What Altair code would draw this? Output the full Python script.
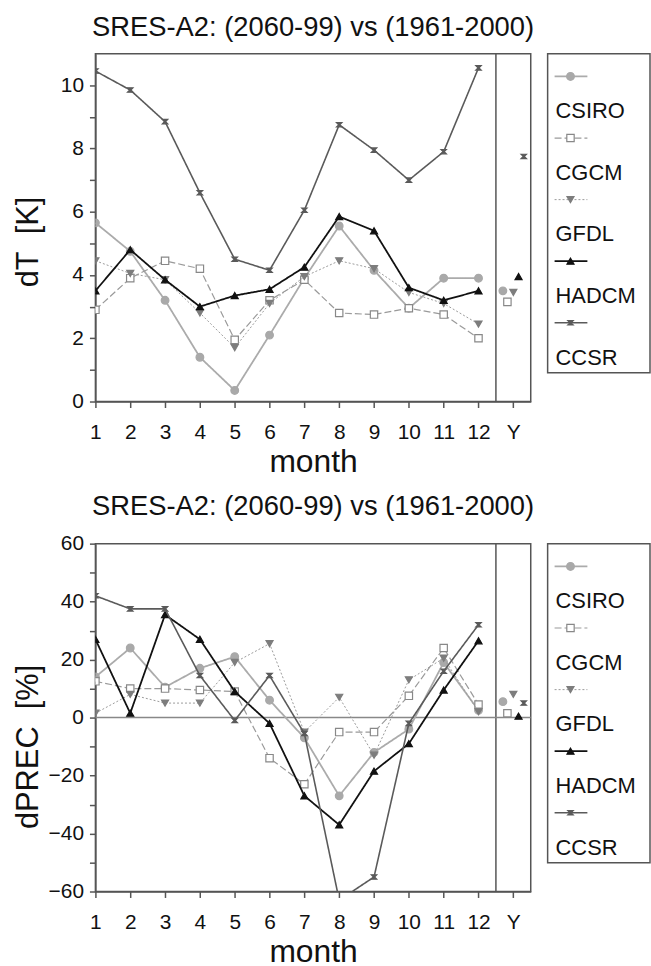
import altair as alt
import pandas as pd

# ---------------- data ----------------
months = list(range(1, 13))
models = ["CSIRO", "CGCM", "GFDL", "HADCM", "CCSR"]
title_text = "SRES-A2: (2060-99) vs (1961-2000)"
annual_label = "Y"
annual_pos = 13
separator_pos = 12.5

dT_monthly = {
    "CSIRO": [5.65, 4.75, 3.2, 1.4, 0.35, 2.1, 3.9, 5.55, 4.15, 2.95, 3.9, 3.9],
    "CGCM": [2.9, 3.9, 4.45, 4.2, 1.95, 3.2, 3.85, 2.8, 2.75, 2.95, 2.75, 2.0],
    "GFDL": [4.45, 4.05, 3.85, 2.8, 1.7, 3.1, 3.95, 4.45, 4.2, 3.45, 3.1, 2.45],
    "HADCM": [3.5, 4.8, 3.85, 3.0, 3.35, 3.55, 4.25, 5.85, 5.4, 3.6, 3.2, 3.5],
    "CCSR": [10.45, 9.85, 8.85, 6.6, 4.5, 4.15, 6.05, 8.75, 7.95, 7.0, 7.9, 10.55],
}
dT_annual = {"CSIRO": 3.5, "CGCM": 3.15, "GFDL": 3.45, "HADCM": 3.95, "CCSR": 7.75}

dP_monthly = {
    "CSIRO": [14, 24, 10.5, 17, 21, 6, -7, -27, -12, -4, 19, 2.5],
    "CGCM": [12.5, 10, 10, 9.5, 9, -14, -23, -5, -5, 7.5, 24, 4.5],
    "GFDL": [1.5, 8, 5, 5, 19, 25.5, -5, 7, -13, 13, 20.5, 2],
    "HADCM": [27, 1.5, 35.5, 27, 9, -2, -27, -37, -18.5, -9, 9.5, 26.5],
    "CCSR": [42, 37.5, 37.5, 14.5, -1, 14.5, -5.5, -63, -55, -2, 16, 32],
}
dP_annual = {"CSIRO": 5.5, "CGCM": 1.5, "GFDL": 8, "HADCM": 0.5, "CCSR": 5}

# ---------------- styles ----------------
FONT = "Liberation Sans"
AXIS_COLOR = "#555555"
HOURGLASS = "M-1,-0.8L1,-0.8L0.2,0L1,0.8L-1,0.8L-0.2,0Z"
NBSP = "\u00a0"

style = {
    "CSIRO": dict(color="#ababab", dash=[1, 0], width=1.8, shape="circle",
                  fill="#a9a9a9", stroke="#a9a9a9", size=60, dx=-0.3),
    "CGCM": dict(color="#9a9a9a", dash=[7, 3], width=1.2, shape="square",
                 fill="white", stroke="#888888", size=55, dx=-0.17),
    "GFDL": dict(color="#9a9a9a", dash=[2, 2], width=1.0, shape="triangle-down",
                 fill="#7d7d7d", stroke="#7d7d7d", size=50, dx=0.0),
    "HADCM": dict(color="#111111", dash=[1, 0], width=1.8, shape="triangle-up",
                  fill="#111111", stroke="#111111", size=50, dx=0.15),
    "CCSR": dict(color="#5a5a5a", dash=[1, 0], width=1.6, shape=HOURGLASS,
                 fill="#5a5a5a", stroke="#5a5a5a", size=30, dx=0.3),
}


def panel(monthly, annual, domain, tick_vals, label_every, ytitle, title_y):
    x_scale = alt.Scale(domain=[1, 13.5], nice=False, zero=False)
    y_scale = alt.Scale(domain=domain, nice=False, zero=False)
    x_axis = alt.Axis(
        values=months + [annual_pos],
        labelExpr=f"datum.value == {annual_pos} ? '{annual_label}' : datum.label",
        title="month", titleFontSize=32, titleFont=FONT, titleFontWeight="normal",
        titlePadding=4, labelFontSize=21, labelPadding=14, grid=False,
        labelFlush=False,
    )
    y_axis = alt.Axis(
        values=tick_vals,
        labelExpr=f"datum.value % {label_every} == 0 ? datum.label : ''",
        title=ytitle, titleFontSize=31, titleFont=FONT, titleFontWeight="normal",
        titleAngle=-90, titleX=-67, titleY=title_y, titleAlign="center",
        titleBaseline="middle",
        labelFontSize=21, labelPadding=6, grid=False, labelFlush=False,
    )
    X = lambda: alt.X("x:Q", scale=x_scale, axis=x_axis)
    Y = lambda: alt.Y("y:Q", scale=y_scale, axis=y_axis)

    layers = []
    sep = alt.Chart(pd.DataFrame({"x": [separator_pos]})).mark_rule(
        color=AXIS_COLOR, strokeWidth=1.5).encode(x=X())
    layers.append(sep)
    if domain[0] < 0:
        zero = alt.Chart(pd.DataFrame({"y": [0]})).mark_rule(
            color="#888888", strokeWidth=1.5).encode(y=Y())
        layers.append(zero)

    for m in models:
        s = style[m]
        df = pd.DataFrame({"x": months, "y": monthly[m]})
        line = alt.Chart(df).mark_line(
            color=s["color"], strokeWidth=s["width"], strokeDash=s["dash"], clip=True
        ).encode(x=X(), y=Y())
        pts = alt.Chart(df).mark_point(
            shape=s["shape"], filled=True, fill=s["fill"], stroke=s["stroke"],
            strokeWidth=1.2, size=s["size"], opacity=1, clip=True
        ).encode(x=X(), y=Y())
        dfa = pd.DataFrame({"x": [annual_pos + s["dx"]], "y": [annual[m]]})
        apt = alt.Chart(dfa).mark_point(
            shape=s["shape"], filled=True, fill=s["fill"], stroke=s["stroke"],
            strokeWidth=1.2, size=s["size"], opacity=1, clip=True
        ).encode(x=X(), y=Y())
        layers += [line, pts, apt]

    return alt.layer(*layers).properties(
        width=438, height=350,
        title=alt.TitleParams(title_text, fontSize=27.5, font=FONT,
                              fontWeight="normal", offset=12, anchor="middle"),
    )


def legend_panel():
    Y = lambda: alt.Y("i:Q", scale=alt.Scale(domain=[-0.37, 4.81], reverse=True,
                                             nice=False, zero=False), axis=None)
    layers = []
    for i, m in enumerate(models):
        s = style[m]
        df = pd.DataFrame({"i": [i], "label": [m]})
        rule = alt.Chart(df).mark_rule(
            color=s["color"], strokeWidth=s["width"], strokeDash=s["dash"]
        ).encode(x=alt.value(7), x2=alt.value(40), y=Y())
        pt = alt.Chart(df).mark_point(
            shape=s["shape"], filled=True, fill=s["fill"], stroke=s["stroke"],
            strokeWidth=1.2, size=s["size"], opacity=1
        ).encode(x=alt.value(23), y=Y())
        txt = alt.Chart(df).mark_text(
            align="left", baseline="middle", dy=35, fontSize=22, font=FONT,
            color="#111111"
        ).encode(x=alt.value(8), y=Y(), text="label:N")
        layers += [rule, pt, txt]
    return alt.layer(*layers).properties(
        width=103, height=321,
        title=alt.TitleParams(" ", fontSize=27.5, font=FONT, offset=12),
    )


top = panel(dT_monthly, dT_annual, [0, 11], list(range(0, 11)), 2,
            f"dT{NBSP}{NBSP}[K]", 189)
bottom = panel(dP_monthly, dP_annual, [-60, 60], list(range(-60, 61, 10)), 20,
               f"dPREC{NBSP}{NBSP}[%]", 204)

row1 = alt.hconcat(top, legend_panel(), spacing=11)
row2 = alt.hconcat(bottom, legend_panel(), spacing=11)

chart = alt.vconcat(row1, row2, spacing=14).properties(
    padding={"left": 12, "top": 10, "right": 0, "bottom": 0}
).configure_view(
    stroke=AXIS_COLOR, strokeWidth=1.5
).configure_axis(
    domainColor=AXIS_COLOR, domainWidth=1.5, tickColor=AXIS_COLOR, tickWidth=1.5,
    tickSize=6, labelColor="#111111", titleColor="#111111", labelFont=FONT,
).configure_title(color="#111111")

chart.save("out.html", embed_options={"renderer": "svg", "actions": False})
